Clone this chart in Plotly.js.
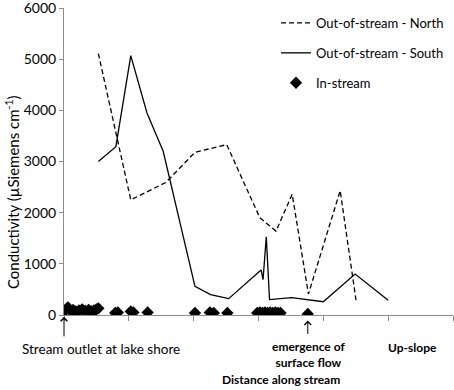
<!DOCTYPE html>
<html>
<head>
<meta charset="utf-8">
<script src="https://cdn.plot.ly/plotly-3.0.1.min.js"></script>
<style>html,body{margin:0;padding:0;background:#fff;}#chart{width:454px;height:390px;}</style>
</head>
<body>
<div id="chart"></div>
<script>
// Out-of-stream - North (dashed)
var xNorth = [0.53, 1.03, 1.57, 2.02, 2.51, 3.02, 3.27, 3.52, 3.77, 4.26, 4.51];
var yNorth = [5110, 2250, 2590, 3180, 3330, 1900, 1640, 2360, 410, 2430, 240];

// Out-of-stream - South (solid)
var xSouth = [0.53, 0.80, 1.03, 1.28, 1.53, 2.02, 2.26, 2.54, 3.04, 3.07, 3.12, 3.17, 3.51, 4.00, 4.49, 5.00];
var ySouth = [3000, 3290, 5070, 3950, 3200, 560, 400, 320, 880, 690, 1530, 300, 340, 260, 800, 290];

// In-stream (diamonds)
var xIn = [0.02, 0.04, 0.06, 0.08, 0.11, 0.14, 0.18, 0.23, 0.28, 0.33, 0.38, 0.42, 0.46, 0.50, 0.53,
           0.79, 0.83, 1.03, 1.07, 1.29, 2.02, 2.25, 2.31, 2.52,
           2.98, 3.02, 3.06, 3.10, 3.14, 3.18, 3.22, 3.26, 3.30, 3.34, 3.76];
var yIn = [90, 120, 150, 110, 80, 100, 70, 90, 110, 80, 100, 70, 90, 110, 130,
           40, 50, 70, 50, 50, 40, 50, 40, 40,
           40, 50, 40, 50, 40, 50, 40, 50, 40, 40, 20];

var seriesNames = ["Out-of-stream - North", "Out-of-stream - South", "In-stream"];
var yTickVals = [0, 1000, 2000, 3000, 4000, 5000, 6000];
var yTitle = "Conductivity (µSiemens cm<sup>-1</sup>)";
var xTitle = "Distance along stream";

var FONT = "Lato, 'Liberation Sans', sans-serif";

var traces = [
  {x: xNorth, y: yNorth, name: seriesNames[0], mode: "lines", legendgroup: "a",
   line: {color: "#000", width: 1.3, dash: "5px,3px"}},
  {x: xSouth, y: ySouth, name: seriesNames[1], mode: "lines", legendgroup: "b",
   line: {color: "#000", width: 1.3}},
  {x: xIn, y: yIn, name: seriesNames[2], mode: "markers", legendgroup: "c",
   marker: {symbol: "diamond", size: 9.5, color: "#000"}}
];

var axisColor = "#8c8c8c";
var layout = {
  width: 454, height: 390,
  margin: {l: 64, r: 1, t: 8, b: 75},
  paper_bgcolor: "#fff", plot_bgcolor: "#fff",
  font: {family: FONT, size: 13, color: "#000"},
  showlegend: true,
  legend: {x: 0.545, y: 1.0, xanchor: "left", yanchor: "top", tracegroupgap: 10,
           font: {family: FONT, size: 13, color: "#000"}, bgcolor: "rgba(0,0,0,0)"},
  xaxis: {range: [0, 6], showgrid: false, zeroline: false, showline: true, linecolor: axisColor,
          linewidth: 1, ticks: "outside", tickcolor: axisColor, ticklen: 5, dtick: 1, tick0: 0,
          showticklabels: false},
  yaxis: {range: [0, 6000.5], showgrid: false, zeroline: false, showline: true, linecolor: axisColor,
          linewidth: 1, ticks: "outside", tickcolor: axisColor, ticklen: 4,
          tickmode: "array", tickvals: yTickVals, ticktext: yTickVals.map(String),
          ticklabeloverflow: "allow",
          tickfont: {family: FONT, size: 14, color: "#000"}},
  annotations: [
    {text: yTitle, textangle: -90, xref: "paper", yref: "paper", x: -0.134, y: 0.4,
     xanchor: "center", yanchor: "middle", showarrow: false, font: {family: FONT, size: 15}},
    {text: "<b>" + xTitle + "</b>", xref: "paper", yref: "paper", x: 0.558, y: -0.21,
     xanchor: "center", yanchor: "middle", showarrow: false, font: {family: FONT, size: 12}},
    {text: "Stream outlet at lake shore", xref: "x", yref: "paper", x: 0.57, y: -0.11,
     xanchor: "center", yanchor: "middle", showarrow: false, font: {family: FONT, size: 13.5}},
    {text: "<b>emergence of</b><br><b>surface flow</b>", xref: "x", yref: "paper", x: 3.77, y: -0.13,
     xanchor: "center", yanchor: "middle", showarrow: false, font: {family: FONT, size: 12}},
    {text: "<b>Up-slope</b>", xref: "x", yref: "paper", x: 5.37, y: -0.105,
     xanchor: "center", yanchor: "middle", showarrow: false, font: {family: FONT, size: 12}},
    {text: "", xref: "x", yref: "paper", x: 0.0, y: -0.006, ax: 0, ay: 21,
     showarrow: true, arrowhead: 4, arrowsize: 1.3, arrowwidth: 1, arrowcolor: "#000"},
    {text: "", xref: "x", yref: "paper", x: 3.76, y: -0.018, ax: 0, ay: 15,
     showarrow: true, arrowhead: 4, arrowsize: 1.3, arrowwidth: 1, arrowcolor: "#000"}
  ]
};

Plotly.newPlot("chart", traces, layout, {displayModeBar: false, staticPlot: true});
</script>
</body>
</html>
